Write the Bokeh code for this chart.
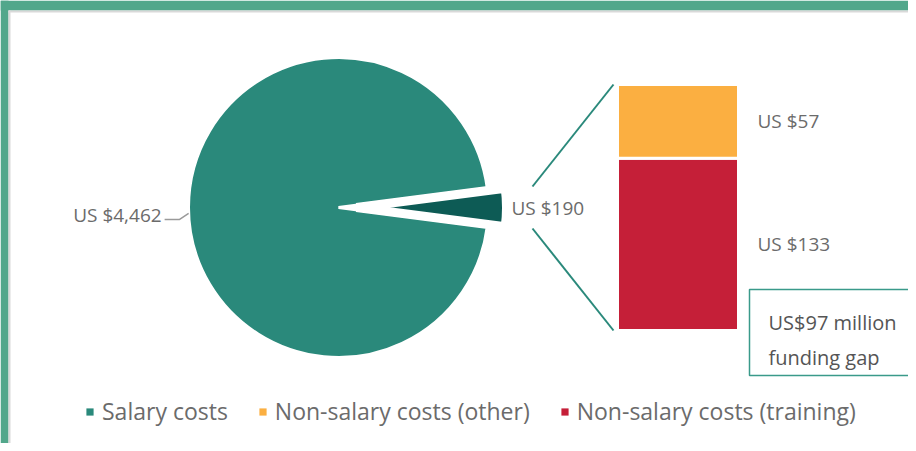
import math
from bokeh.plotting import figure
from bokeh.models import Range1d, Legend, LegendItem, ColumnDataSource
from bokeh.embed import file_html
from bokeh.resources import INLINE
from bokeh.core.properties import value

# ---------------- data ----------------
categories = ["Salary costs", "Non-salary costs (other)", "Non-salary costs (training)"]
pie_values = [4462, 190]             # salary, non-salary total
pie_labels = ["US $4,462", "US $190"]
bar_categories = ["Non-salary costs (training)", "Non-salary costs (other)"]  # bottom -> top
bar_values = [133, 57]
bar_labels = ["US $133", "US $57"]
gap_lines = ["US$97 million", "funding gap"]

TEAL = "#2a897b"
DARK = "#0d5b55"
ORANGE = "#fbaf41"
RED = "#c51f38"
FRAME = "#52a78b"
TXT = "#6b6b6b"
FONT = "Open Sans"

# ---------------- figure (1 data unit = 1 px) ----------------
W, H = 908, 443
p = figure(width=W, height=H, x_range=Range1d(0, W), y_range=Range1d(0, H),
           output_backend="svg", toolbar_location=None, min_border=0,
           outline_line_color=None, background_fill_color="white",
           border_fill_color="white")
p.axis.visible = False
p.grid.visible = False

def Y(py):
    return H - py

# frame strips
p.quad(left=[0], right=[W], bottom=[Y(10)], top=[H], fill_color=FRAME, line_color=None)
p.quad(left=[0], right=[8], bottom=[0], top=[H], fill_color=FRAME, line_color=None)
p.quad(left=[8], right=[W], bottom=[Y(12)], top=[Y(10)], fill_color="#d9d9d9", line_color=None)
p.quad(left=[8], right=[10], bottom=[0], top=[Y(10)], fill_color="#d9d9d9", line_color=None)

# ---------------- pie ----------------
cx, cy, r = 338, Y(207), 150
total = sum(pie_values)
theta = 2 * math.pi * pie_values[1] / total
explode = 18
p.wedge(x=[cx], y=[cy], radius=r, start_angle=[theta / 2], end_angle=[2 * math.pi - theta / 2],
        fill_color=TEAL, line_color="white", line_width=3)
p.wedge(x=[cx + explode], y=[cy], radius=r, start_angle=[-theta / 2], end_angle=[theta / 2],
        fill_color=DARK, line_color="white", line_width=9)

# pie labels
p.text(x=[cx + r + 23], y=[cy], text=[pie_labels[1]], text_font=value(FONT),
       text_font_size="19px", text_color=TXT, text_align="left", text_baseline="middle")
ang = math.pi + 0.04
ex, ey = cx + r * math.cos(ang), cy + r * math.sin(ang)
p.line(x=[ex - 24, ex - 9, ex], y=[ey - 6, ey - 6, ey], line_color="#9a9a9a", line_width=1.5)
p.text(x=[ex - 27], y=[ey - 2], text=[pie_labels[0]], text_font=value(FONT),
       text_font_size="19px", text_color=TXT, text_align="right", text_baseline="middle")

# ---------------- stacked bar ----------------
bar_bottom_px = Y(330)
bar_top_px = Y(84)
bar_total = sum(bar_values)
k = (bar_top_px - bar_bottom_px) / bar_total
p.extra_y_ranges = {"bar": Range1d(-bar_bottom_px / k, (H - bar_bottom_px) / k)}
bottoms, tops = [], []
acc = 0
for v in bar_values:
    bottoms.append(acc)
    acc += v
    tops.append(acc)
bar_src = ColumnDataSource(dict(x=[677.5] * 2, bottom=bottoms, top=tops,
                                color=[RED, ORANGE], label=bar_labels,
                                mid=[(b + t) / 2 for b, t in zip(bottoms, tops)],
                                lx=[757] * 2))
p.vbar(x="x", width=121, bottom="bottom", top="top", fill_color="color",
       line_color="white", line_width=3, source=bar_src, y_range_name="bar")
p.text(x="lx", y="mid", text="label", source=bar_src, y_range_name="bar",
       text_font=value(FONT), text_font_size="19px", text_color=TXT,
       text_align="left", text_baseline="middle")

# connector lines
x0 = cx + r + 44
x1 = 677.5 - 121 / 2 - 4
p.segment(x0=[x0, x0], y0=[cy + 21, cy - 21], x1=[x1, x1],
          y1=[bar_bottom_px + bar_total * k, bar_bottom_px],
          line_color=TEAL, line_width=2)

# ---------------- funding gap box ----------------
p.quad(left=[749], right=[940], bottom=[Y(375)], top=[Y(289)], fill_color="white",
       line_color="#3a9a8a", line_width=1.5)
p.text(x=[768, 768], y=[Y(322), Y(357)], text=gap_lines, text_font=value(FONT),
       text_font_size="20px", text_color="#555555", text_align="left",
       text_baseline="middle")

# ---------------- legend ----------------
items = []
for name, col in zip(categories, [TEAL, ORANGE, RED]):
    rr = p.quad(left=[-50], right=[-40], bottom=[-50], top=[-40], fill_color=col, line_color=None)
    items.append(LegendItem(label=name, renderers=[rr]))
legend = Legend(items=items, orientation="horizontal", location=(85, 16),
                glyph_width=9, glyph_height=9, label_standoff=8, spacing=30,
                padding=0, margin=0, border_line_alpha=0, background_fill_alpha=0,
                label_text_font_size="23px", label_text_color=TXT,
                label_text_font=FONT)
p.add_layout(legend)

open("out.html", "w").write(file_html(p, INLINE))
